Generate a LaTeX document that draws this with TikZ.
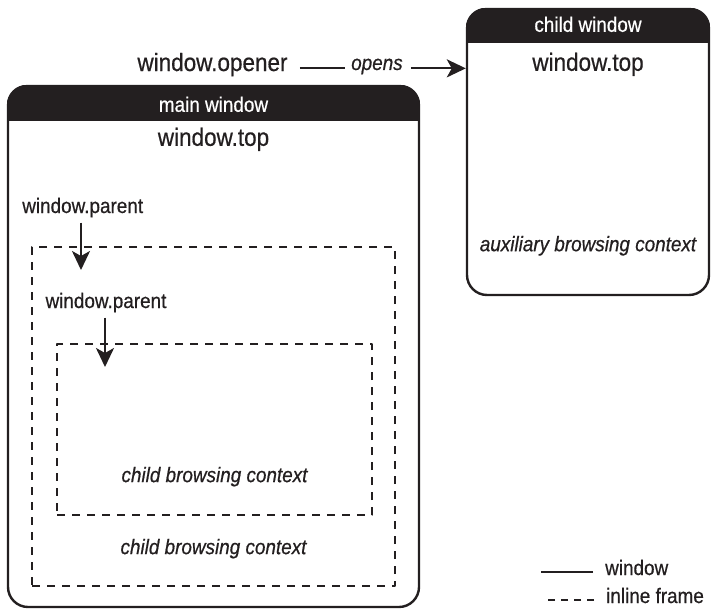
\documentclass[tikz,border=0pt]{standalone}
\usepackage{fontspec}
\setmainfont{Liberation Sans}[FakeStretch=0.9,FakeBold=0.6]
\usetikzlibrary{arrows.meta,calc}
\definecolor{ink}{RGB}{35,31,32}
\tikzset{
    biglab/.style={
        font=\fontsize{25}{30}\selectfont, text=ink, inner sep=0pt
    },
    lab/.style={
        font=\fontsize{21}{25}\selectfont, text=ink, inner sep=0pt
    },
    itlab/.style={
        font=\fontsize{21}{25}\selectfont\itshape, text=ink, inner sep=0pt
    }
}

\begin{document}
\begin{tikzpicture}[x=1pt,y=-1pt, line join=round]

\tikzset{
  win/.style={draw=ink, line width=2.4pt, rounded corners=20pt, inner sep=0pt},
  iframe/.style={draw=ink, line width=2.2pt, dash pattern=on 8pt off 7pt, inner sep=0pt},
  hdr/.style={fill=ink},
  conn/.style={draw=ink, line width=2.2pt},
  arr/.style={conn, -{Stealth[length=19pt,width=18pt,inset=5pt]}},
}

\useasboundingbox (0,0) rectangle (711,610);

% windows
\node[win, minimum width=411pt, minimum height=521pt] (mainwin) at (213.5,346.5) {};
\node[win, minimum width=242pt, minimum height=286pt] (childwin) at (588,152) {};

% title bars
\begin{scope}
  \clip[rounded corners=20pt] (mainwin.north west) rectangle (mainwin.south east);
  \fill[hdr] (mainwin.north west) rectangle ([yshift=-36pt]mainwin.north east);
\end{scope}
\begin{scope}
  \clip[rounded corners=20pt] (childwin.north west) rectangle (childwin.south east);
  \fill[hdr] (childwin.north west) rectangle ([yshift=-35pt]childwin.north east);
\end{scope}

\node[lab, text=white, anchor=base] (mainhdr) at ([yshift=-27pt]mainwin.north) {main window};
\node[lab, text=white, anchor=base] (childhdr) at ([yshift=-24pt]childwin.north) {child window};

\node[biglab, anchor=base] (maintop) at ([yshift=-61pt]mainwin.north) {window.top};
\node[biglab, anchor=base] (childtop) at ([yshift=-63pt]childwin.north) {window.top};
\node[itlab, anchor=base] (auxctx) at ([yshift=45pt]childwin.south) {auxiliary browsing context};

% inline frames
\node[iframe, minimum width=363pt, minimum height=339pt] (outerfr) at (213.5,416.5) {};
\node[iframe, minimum width=315pt, minimum height=171pt] (innerfr) at (214.5,429.5) {};

\node[itlab, anchor=base] (innerctx) at ([yshift=34pt]innerfr.south) {child browsing context};
\node[itlab, anchor=base] (outerctx) at ([yshift=33pt]outerfr.south) {child browsing context};

% parent pointers
\node[lab, anchor=base] (parentA) at (82.7,213) {window.parent};
\node[lab, anchor=base] (parentB) at (106,308) {window.parent};
\coordinate (tipA) at (81,270);
\coordinate (tipB) at (105,367);
\draw[arr, shorten <=5pt] (parentA.south -| tipA) -- (tipA);
\draw[arr, shorten <=5pt] (parentB.south -| tipB) -- (tipB);

% opener
\node[biglab, anchor=base] (opener) at (212.5,71) {window.opener};
\node[itlab, anchor=base west] (opens) at (351,70) {opens};
\draw[conn] ([xshift=12pt]opener.mid east) -- ([xshift=-6pt]opener.mid east -| opens.west);
\draw[arr] ([xshift=8pt]opener.mid east -| opens.east) -- (opener.mid east -| childwin.west);

% legend
\node[lab, anchor=base west] (legwin) at (605,575) {window};
\node[lab, anchor=base west] (legfr) at (606,603) {inline frame};
\draw[conn, line width=1.8pt] ([xshift=-12pt]legwin.mid west) -- ++(-52,0);
\draw[conn, line width=1.8pt, dash pattern=on 7pt off 6pt] ([xshift=-12pt]legfr.mid west) -- ++(-52,0);

\end{tikzpicture}
\end{document}
